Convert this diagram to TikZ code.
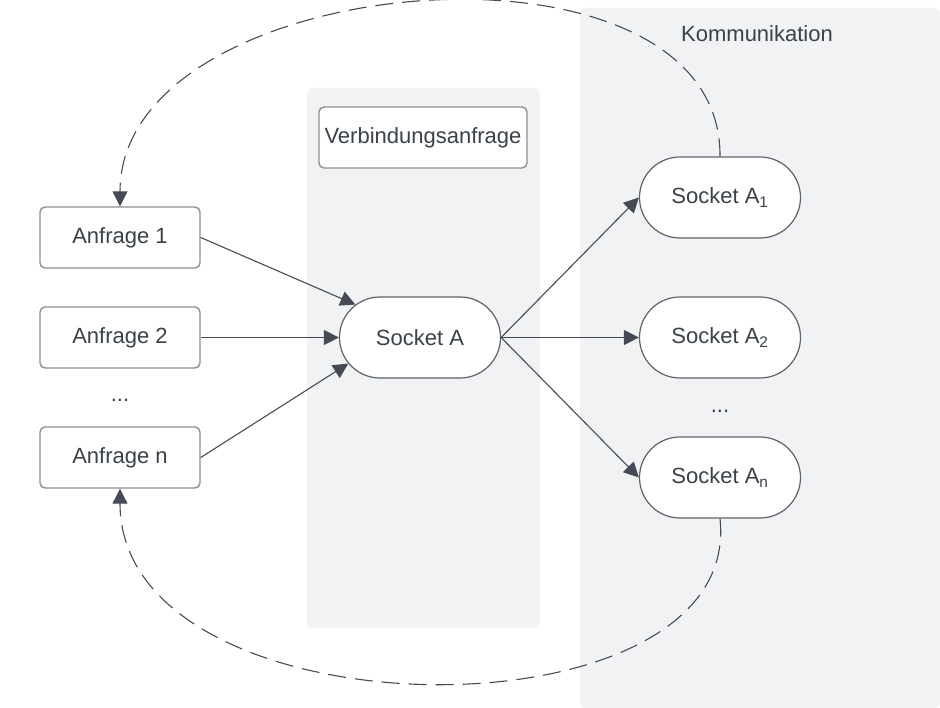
\documentclass[tikz,border=0pt]{standalone}
\usepackage{fontspec}
\setmainfont{Liberation Sans}
\usetikzlibrary{shapes.misc,arrows.meta}
\definecolor{panelc}{HTML}{F1F2F4}
\definecolor{txtc}{HTML}{3A414A}
\definecolor{boxc}{HTML}{8C8F94}
\definecolor{pillc}{HTML}{5F646B}
\definecolor{connc}{HTML}{454B54}
\begin{document}
\begin{tikzpicture}[x=1pt,y=-1pt,
  every node/.style={font=\fontsize{22}{26}\selectfont, text=txtc},
  panelbox/.style={fill=panelc, draw=none, rounded corners=6pt},
  reqbox/.style={draw=boxc, line width=1.4pt, rounded corners=5pt, minimum width=160pt, minimum height=61pt, fill=white, inner sep=0pt},
  pillbox/.style={rounded rectangle, draw=pillc, line width=1.2pt, fill=white, minimum width=161pt, minimum height=81pt, inner sep=0pt},
  connarrow/.style={draw=connc, line width=1.1pt, -{Triangle[length=15pt,width=15pt]}},
  looparrow/.style={connarrow, dash pattern=on 18pt off 9pt}
]
\useasboundingbox (0,0) rectangle (940,708);
\path[panelbox] (307,88) rectangle (540,628);
\path[panelbox] (580,8) rectangle (940,708);

\node[reqbox, minimum width=208pt] (vb) at (423,137.5) {Verbindungsanfrage};
\node (komm) at (757,34) {Kommunikation};

\node[reqbox] (a1) at (120,237.5) {Anfrage 1};
\node[reqbox] (a2) at (120,337.5) {Anfrage 2};
\node (dl) at (120,400) {...};
\node[reqbox] (an) at (120,457.5) {Anfrage n};

\node[pillbox] (sa) at (420,337.5) {Socket A};
\node[pillbox] (s1) at (720,197.5) {Socket A\textsubscript{1}};
\node[pillbox] (s2) at (720,337.5) {Socket A\textsubscript{2}};
\node (dr) at (720,411) {...};
\node[pillbox] (sn) at (720,477.5) {Socket A\textsubscript{n}};

\draw[connarrow] (a1.east) -- (sa.153);
\draw[connarrow] (a2.east) -- (sa.west);
\draw[connarrow] (an.east) -- (sa.200);
\draw[connarrow] (sa.east) -- (s1.west);
\draw[connarrow] (sa.east) -- (s2.west);
\draw[connarrow] (sa.east) -- (sn.west);

\draw[looparrow] (s1.north) .. controls (722,-82) and (120,-32) .. (a1.north);
\draw[looparrow] (sn.south) .. controls (745,745) and (120,740) .. (an.south);
\end{tikzpicture}
\end{document}
